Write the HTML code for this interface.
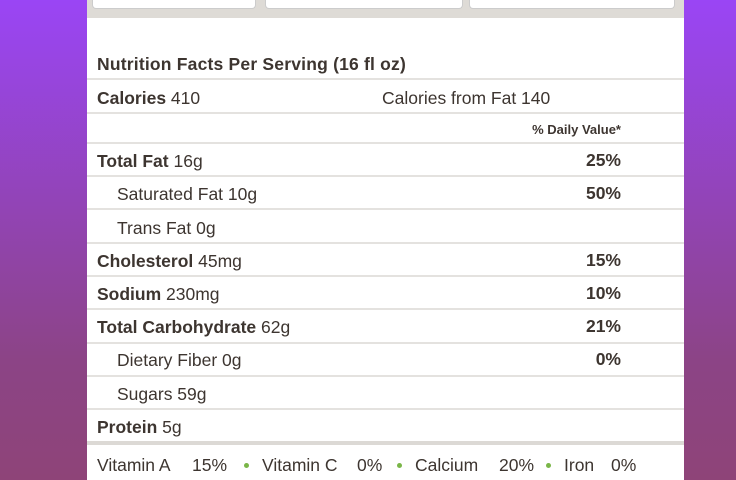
<!DOCTYPE html><html><head><style>
body{margin:0;width:736px;height:480px;overflow:hidden;background:linear-gradient(#9a45f5,#8c4486 75%,#8e4478);font-family:"Liberation Sans",sans-serif;color:#3d3530}
#card{position:absolute;left:87px;top:0;width:597px;height:480px;background:#fff}
#band{position:absolute;left:0;top:0;width:597px;height:18px;background:#dedbd6}
.dd{position:absolute;top:0;height:8px;background:#fff;border:1px solid #ccc;border-top:none;border-radius:0 0 4px 4px}
.t{position:absolute;font-size:17.5px;white-space:nowrap;line-height:20px}
.b{font-weight:bold}
.r{right:63px;font-weight:bold}
.ln{position:absolute;left:0;width:597px;height:2px;background:#e4e2df}
.dot{position:absolute;top:463px;width:5px;height:5px;border-radius:50%;background:#7ab648}
</style></head><body><div id="card">
<div id="band"><div class="dd" style="left:5px;width:162px"></div><div class="dd" style="left:178px;width:196px"></div><div class="dd" style="left:382px;width:204px"></div></div>
<div class="t b" style="left:10px;top:54px;letter-spacing:0.2px">Nutrition Facts Per Serving (16 fl oz)</div>
<div class="ln" style="top:78px"></div>
<div class="t" style="left:10px;top:88px"><b>Calories</b> 410</div>
<div class="t" style="left:295px;top:88px">Calories from Fat 140</div>
<div class="ln" style="top:112px"></div>
<div class="t" style="right:63px;top:120px;font-size:13px;font-weight:bold">% Daily Value*</div>
<div class="ln" style="top:142px"></div>
<div class="t" style="left:10px;top:151px"><b>Total Fat</b> 16g</div><div class="t r" style="top:150px">25%</div>
<div class="ln" style="top:175px"></div>
<div class="t" style="left:30px;top:184px">Saturated Fat 10g</div><div class="t r" style="top:183px">50%</div>
<div class="ln" style="top:208px"></div>
<div class="t" style="left:30px;top:218px">Trans Fat 0g</div>
<div class="ln" style="top:242px"></div>
<div class="t" style="left:10px;top:251px"><b>Cholesterol</b> 45mg</div><div class="t r" style="top:250px">15%</div>
<div class="ln" style="top:275px"></div>
<div class="t" style="left:10px;top:284px"><b>Sodium</b> 230mg</div><div class="t r" style="top:283px">10%</div>
<div class="ln" style="top:308px"></div>
<div class="t" style="left:10px;top:317px"><b>Total Carbohydrate</b> 62g</div><div class="t r" style="top:316px">21%</div>
<div class="ln" style="top:342px"></div>
<div class="t" style="left:30px;top:350px">Dietary Fiber 0g</div><div class="t r" style="top:349px">0%</div>
<div class="ln" style="top:375px"></div>
<div class="t" style="left:30px;top:384px">Sugars 59g</div>
<div class="ln" style="top:408px"></div>
<div class="t" style="left:10px;top:417px"><b>Protein</b> 5g</div>
<div class="ln" style="top:441px;height:4px;background:#dcd9d5"></div>
<div class="t" style="left:10px;top:455px">Vitamin A</div>
<div class="t" style="left:105px;top:455px">15%</div>
<div class="dot" style="left:157px"></div>
<div class="t" style="left:175px;top:455px">Vitamin C</div>
<div class="t" style="left:270px;top:455px">0%</div>
<div class="dot" style="left:310px"></div>
<div class="t" style="left:328px;top:455px">Calcium</div>
<div class="t" style="left:412px;top:455px">20%</div>
<div class="dot" style="left:459px"></div>
<div class="t" style="left:477px;top:455px">Iron</div>
<div class="t" style="left:524px;top:455px">0%</div>
</div></body></html>
